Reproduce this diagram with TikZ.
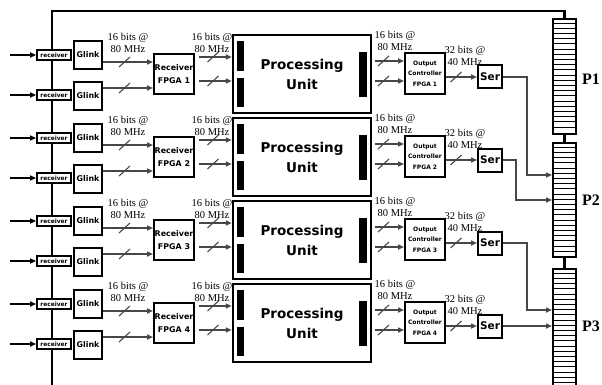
\documentclass[tikz,border=0pt]{standalone}
\usepackage{fontspec}
\setmainfont{Liberation Serif}
\newfontfamily\boxfont{DejaVu Sans}
\usetikzlibrary{arrows.meta}
\definecolor{ln}{HTML}{474747}
\tikzset{
  bx/.style={draw=black, line width=2pt, fill=white, inner sep=0pt, align=center, font=\boxfont\bfseries},
  rcv/.style={bx, line width=1.8pt, minimum width=34pt, minimum height=10pt, font=\boxfont\bfseries\fontsize{5.9}{6}\selectfont},
  glink/.style={bx, minimum width=28pt, minimum height=28pt, font=\boxfont\bfseries\fontsize{7.9}{9}\selectfont},
  fpga/.style={bx, minimum width=40pt, minimum height=40pt, font=\boxfont\bfseries\fontsize{7.9}{13}\selectfont},
  pu/.style={bx, line width=2.5pt, minimum width=138pt, minimum height=78pt, font=\boxfont\bfseries\fontsize{13.5}{20}\selectfont},
  oc/.style={bx, minimum width=40pt, minimum height=41pt, font=\boxfont\bfseries\fontsize{6}{10.5}\selectfont},
  ser/.style={bx, minimum width=24pt, minimum height=23pt, font=\boxfont\bfseries\fontsize{10.5}{12}\selectfont},
  lbl/.style={inner sep=0pt, align=center, font=\fontsize{10.5}{12}\selectfont},
  plbl/.style={inner sep=0pt, font=\bfseries\fontsize{16}{18}\selectfont},
  conn/.style={draw=black, line width=2pt, fill=white, minimum width=23pt, inner sep=0pt},
  arr/.style={draw=ln, line width=1.5pt, -{Triangle[length=6pt,width=5pt]}},
  inarr/.style={draw=black, line width=1.8pt, -{Triangle[length=6pt,width=5pt]}},
  sl/.style={draw=ln, line width=1.1pt},
  frame/.style={draw=black, line width=2.5pt},
  stripe/.style={draw=black, line width=1pt},
}
\begin{document}
\begin{tikzpicture}[x=1pt,y=-1pt]
\useasboundingbox (0,0) rectangle (602,385);

% connectors
\node[conn, minimum height=115pt] (P1c) at (564.5,76.5) {};
\node[conn, minimum height=114pt] (P2c) at (564.5,200) {};
\node[conn, minimum height=125pt] (P3c) at (564.5,331.5) {};
\foreach \k in {1,...,21} {
  \draw[stripe] ([yshift={-5.2*\k pt}]P1c.north west) -- ([yshift={-5.2*\k pt}]P1c.north east);
  \draw[stripe] ([yshift={-5.2*\k pt}]P2c.north west) -- ([yshift={-5.2*\k pt}]P2c.north east);
}
\foreach \k in {1,...,23} {
  \draw[stripe] ([yshift={-5.2*\k pt}]P3c.north west) -- ([yshift={-5.2*\k pt}]P3c.north east);
}
\draw[frame] (P1c.south) -- (P2c.north);
\draw[frame] (P2c.south) -- (P3c.north);
\node[plbl] (P1) at (591,79) {P1};
\node[plbl] (P2) at (591,200) {P2};
\node[plbl] (P3) at (591,326) {P3};

% frame
\coordinate (fb) at (52,390);
\coordinate (ft) at (52,11);
\draw[frame] (fb) -- (ft) -| (P1c.north);

\foreach \k in {1,2,3,4} {
  \pgfmathsetmacro\dy{83*(\k-1)}
  \pgfmathsetmacro\ya{55+\dy}
  \pgfmathsetmacro\yb{95+\dy}
  % receivers
  \node[rcv] (rA\k) at (54,\ya) {receiver};
  \node[rcv] (rB\k) at (54,\yb) {receiver};
  \coordinate (iA\k) at (10,\ya);
  \coordinate (iB\k) at (10,\yb);
  \draw[inarr] (iA\k) -- (rA\k.west);
  \draw[inarr] (iB\k) -- (rB\k.west);
  % glinks
  \node[glink] (gA\k) at (88,\ya) {Glink};
  \node[glink] (gB\k) at (88,{96+\dy}) {Glink};
  % receiver fpga
  \node[fpga] (f\k) at (174,{74+\dy}) {Receiver\\FPGA \k};
  \pgfmathsetmacro\yc{62+\dy}
  \pgfmathsetmacro\yd{88+\dy}
  \draw[arr] (gA\k.east |- 0,\yc) -- (f\k.west |- 0,\yc);
  \draw[arr] (gB\k.east |- 0,\yd) -- (f\k.west |- 0,\yd);
  \draw[sl] (119,{\yc+5}) -- (130,{\yc-5});
  \draw[sl] (119,{\yd+5}) -- (130,{\yd-5});
  \node[lbl] (lA\k) at (128,{43+\dy}) {16 bits @\\80 MHz};
  % processing unit
  \node[pu] (pu\k) at (302,{74+\dy}) {Processing\\Unit};
  \fill[black] (237,{41+\dy}) rectangle (244,{71+\dy});
  \fill[black] (237,{78+\dy}) rectangle (244,{107+\dy});
  \fill[black] (359,{52+\dy}) rectangle (367,{97+\dy});
  \pgfmathsetmacro\ye{57+\dy}
  \pgfmathsetmacro\yf{81+\dy}
  \draw[arr, shorten <=4pt] (f\k.east |- 0,\ye) -- (pu\k.west |- 0,\ye);
  \draw[arr, shorten <=4pt] (f\k.east |- 0,\yf) -- (pu\k.west |- 0,\yf);
  \draw[sl] (207.5,{\ye+5}) -- (218.5,{\ye-5});
  \draw[sl] (207.5,{\yf+5}) -- (218.5,{\yf-5});
  \node[lbl] (lB\k) at (212,{43+\dy}) {16 bits @\\80 MHz};
  % output controller
  \node[oc] (oc\k) at (425,{73.5+\dy}) {Output\\Controller\\FPGA \k};
  \pgfmathsetmacro\yg{61+\dy}
  \pgfmathsetmacro\yh{81+\dy}
  \draw[arr, shorten <=3pt] (pu\k.east |- 0,\yg) -- (oc\k.west |- 0,\yg);
  \draw[arr, shorten <=3pt] (pu\k.east |- 0,\yh) -- (oc\k.west |- 0,\yh);
  \draw[sl] (378,{\yg+5}) -- (389,{\yg-5});
  \draw[sl] (378,{\yh+5}) -- (389,{\yh-5});
  \node[lbl] (lC\k) at (395,{41+\dy}) {16 bits @\\80 MHz};
  % serializer
  \node[ser] (s\k) at (490,{77+\dy}) {Ser};
  \draw[arr] (oc\k.east |- s\k.west) -- (s\k.west);
  \draw[sl] (450.5,{82+\dy}) -- (461.5,{72+\dy});
  \node[lbl] (lD\k) at (465,{56+\dy}) {32 bits @\\40 MHz};
}

% serializer outputs
\draw[arr] (s1.east) -- ++(24,0) |- (P2c.west |- 0,175);
\draw[arr] (s2.east) -- ++(13,0) |- (P2c.west |- 0,200);
\draw[arr] (s3.east) -- ++(24,0) |- (P3c.west |- 0,310);
\draw[arr] (s4.east) -- (P3c.west |- s4.east);
\end{tikzpicture}
\end{document}
